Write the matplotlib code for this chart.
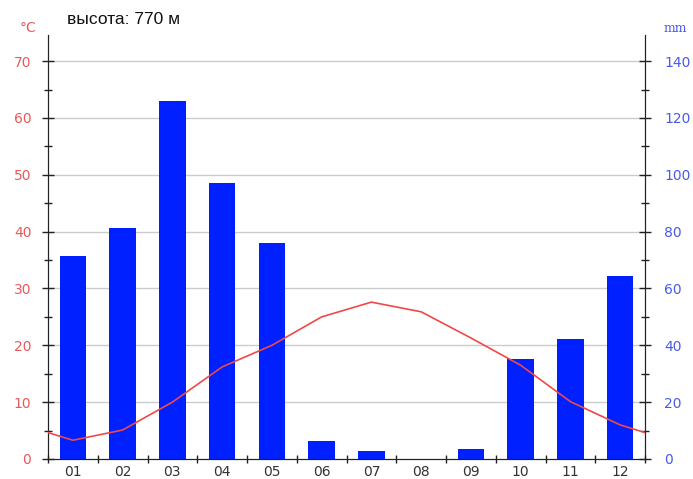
import matplotlib
matplotlib.use("Agg")
import matplotlib.pyplot as plt
from matplotlib.ticker import MultipleLocator
import numpy as np

months = ["01", "02", "03", "04", "05", "06", "07", "08", "09", "10", "11", "12"]
precip_mm = [71.4, 81.3, 125.9, 97.1, 76.0, 6.3, 2.8, 0.0, 3.5, 35.1, 42.1, 64.5]
temp_c = [3.3, 5.1, 10.0, 16.2, 20.0, 25.0, 27.6, 25.9, 21.3, 16.5, 10.1, 6.0]
title_text = "высота: 770 м"

red = "#e85a5a"
blue = "#4a5ae8"
bar_blue = "#0020ff"

fig = plt.figure(figsize=(6.93, 4.79), dpi=100)
ax = fig.add_axes([48/693, 20/479, 597/693, 424/479])
ax2 = ax.twinx()

x = np.arange(len(months)) + 0.5
ax2.bar(x, precip_mm, width=0.53, color=bar_blue, zorder=3)

# periodic temperature line extended to the edges
xt = np.concatenate(([x[0] - 1], x, [x[-1] + 1]))
yt = np.concatenate(([temp_c[-1]], temp_c, [temp_c[0]]))
ax.plot(xt, yt, color="#f04848", lw=1.2, zorder=5, clip_on=True)

ytop = 74.6
ax.set_ylim(0, ytop)
ax2.set_ylim(0, ytop * 2)
ax.set_xlim(0, 12)

ax.set_zorder(ax2.get_zorder() + 1)
ax.patch.set_visible(False)

ax.yaxis.set_major_locator(MultipleLocator(10))
ax.yaxis.set_minor_locator(MultipleLocator(5))
ax2.yaxis.set_major_locator(MultipleLocator(20))
ax2.yaxis.set_minor_locator(MultipleLocator(10))

ax.set_xticks(np.arange(0, 13), minor=False)
ax.set_xticklabels([])
ax.set_xticks(x, minor=True)
ax.set_xticklabels(months, minor=True)
ax.tick_params(axis="x", which="major", direction="inout", length=6, width=1, color="#222222")
ax.tick_params(axis="x", which="minor", length=0, pad=4, labelsize=10, labelcolor="#333333")

ax.tick_params(axis="y", which="major", direction="inout", length=8, width=1, color="#222222",
               labelsize=10, labelcolor=red, pad=8)
ax.tick_params(axis="y", which="minor", direction="inout", length=6, width=1, color="#222222")
ax2.tick_params(axis="y", which="major", direction="inout", length=8, width=1, color="#222222",
                labelsize=10, labelcolor=blue, pad=10)
ax2.tick_params(axis="y", which="minor", direction="inout", length=6, width=1, color="#222222")

ax2.grid(False)
for yv in range(10, 71, 10):
    ax2.axhline(yv * 2, color="#cccccc", lw=1, zorder=1)

for a in (ax, ax2):
    a.spines["top"].set_visible(False)
    a.spines["left"].set_color("#222222")
    a.spines["right"].set_color("#222222")
    a.spines["bottom"].set_color("#222222")

fig.text(20/693, 1 - 28/479, "°C", color=red, fontsize=10, va="center", ha="left")
fig.text(664/693, 1 - 28/479, "mm", color=blue, fontsize=9, va="center", ha="left", family="DejaVu Serif")
fig.text(67/693, 1 - 20/479, title_text, color="#111111", fontsize=12.5, va="center", ha="left",
         family="Liberation Sans")

fig.savefig("out.png", dpi=100)
